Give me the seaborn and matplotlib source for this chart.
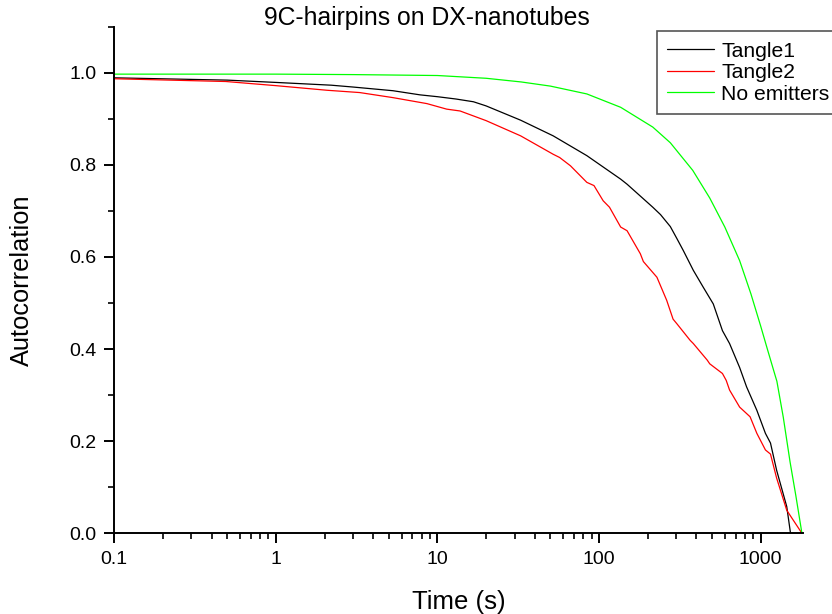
import numpy as np
import pandas as pd
import matplotlib
matplotlib.use("Agg")
import matplotlib.pyplot as plt
import matplotlib.ticker as mticker
import seaborn as sns

# ── Data ─────────────────────────────────────────────────────
tangle1_t = [0.1, 0.5, 1, 2.2, 3, 5.3, 7.8, 10, 13, 16.7, 20, 32.7, 52, 84, 136,
             149, 215, 240, 276, 303, 332, 383, 440, 509, 580, 642, 741, 818,
             947, 1070, 1150, 1255, 1450, 1530]
tangle1_v = [0.989, 0.984, 0.979, 0.973, 0.969, 0.961, 0.952, 0.948, 0.943, 0.937,
             0.928, 0.897, 0.863, 0.820, 0.769, 0.758, 0.708, 0.692, 0.666, 0.640,
             0.614, 0.571, 0.535, 0.498, 0.440, 0.412, 0.360, 0.318, 0.267, 0.217,
             0.196, 0.137, 0.058, 0.0]

tangle2_t = [0.1, 0.49, 1.0, 2.07, 3.3, 5.3, 8.6, 11.4, 13.8, 20, 32.7, 52, 57,
             66.5, 84, 93, 106, 116, 136, 149, 180, 188, 228, 262, 287, 303, 366,
             383, 467, 484, 580, 612, 642, 741, 860, 947, 1070, 1150, 1255, 1450,
             1800]
tangle2_v = [0.987, 0.981, 0.972, 0.962, 0.957, 0.946, 0.933, 0.921, 0.917, 0.896,
             0.863, 0.823, 0.816, 0.798, 0.762, 0.755, 0.722, 0.708, 0.665, 0.657,
             0.607, 0.590, 0.556, 0.506, 0.465, 0.455, 0.419, 0.412, 0.376, 0.368,
             0.347, 0.332, 0.311, 0.274, 0.253, 0.217, 0.181, 0.172, 0.120, 0.050,
             0.0]

noemit_t = [0.1, 1, 3, 10, 20, 33, 50, 84, 136, 215, 276, 380, 484, 600, 741, 870,
            1000, 1100, 1200, 1260, 1380, 1520, 1650, 1800]
noemit_v = [0.997, 0.997, 0.996, 0.994, 0.988, 0.980, 0.971, 0.954, 0.925, 0.882,
            0.848, 0.788, 0.728, 0.665, 0.592, 0.520, 0.450, 0.400, 0.355, 0.330,
            0.252, 0.155, 0.082, 0.0]

SERIES = [
    ("Tangle1", tangle1_t, tangle1_v, "#000000"),
    ("Tangle2", tangle2_t, tangle2_v, "#ff0000"),
    ("No emitters", noemit_t, noemit_v, "#00ff00"),
]

y_ticks = [0.0, 0.2, 0.4, 0.6, 0.8, 1.0]
x_ticks = [0.1, 1, 10, 100, 1000]

# ── Style ────────────────────────────────────────────────────
sns.set_style("ticks")
plt.rcParams["font.family"] = ["Liberation Sans", "DejaVu Sans"]
plt.rcParams["text.color"] = "black"
plt.rcParams["axes.labelcolor"] = "black"

W, H = 832, 614
fig = plt.figure(figsize=(W / 100, H / 100), dpi=100)
ax_l, ax_r, ax_b, ax_t = 114.3, 802.7, 533.3, 26.7
ax = fig.add_axes([ax_l / W, 1 - ax_b / H, (ax_r - ax_l) / W, (ax_b - ax_t) / H])

for name, t, v, col in SERIES:
    d = pd.DataFrame({"t": t, "v": v})
    sns.lineplot(data=d, x="t", y="v", color=col, lw=0.9, label=name, ax=ax,
                 estimator=None, sort=False)

ax.set_xscale("log")
ax.set_xlim(0.1, 1820)
ax.set_ylim(0, 1.1)

ax.set_xticks(x_ticks)
ax.xaxis.set_major_formatter(mticker.FuncFormatter(lambda x, _: f"{x:g}"))
ax.xaxis.set_minor_locator(mticker.LogLocator(base=10, subs=np.arange(2, 10)))
ax.xaxis.set_minor_formatter(mticker.NullFormatter())
ax.set_yticks(y_ticks)
ax.yaxis.set_major_formatter(mticker.FormatStrFormatter("%.1f"))
ax.yaxis.set_minor_locator(mticker.MultipleLocator(0.1))

for s in ("top", "right"):
    ax.spines[s].set_visible(False)
for s in ("left", "bottom"):
    ax.spines[s].set_linewidth(1.4)
    ax.spines[s].set_color("black")

ax.tick_params(which="major", direction="out", length=7, width=1.4,
               labelsize=14, pad=6, colors="black")
ax.tick_params(which="minor", direction="out", length=4, width=1.2, colors="black")

ax.set_xlabel("Time (s)", fontsize=18.5)
ax.set_ylabel("Autocorrelation", fontsize=18.3)
ax.xaxis.set_label_coords(0.5, -0.111)
ax.yaxis.set_label_coords(-0.117, 0.5)

fig.text(426.5 / W, 1 - 25 / H, "9C-hairpins on DX-nanotubes", fontsize=17.8,
         ha="center", va="baseline")

# legend frame runs past the right edge of the figure, as in the original
leg = ax.legend(loc="upper left", bbox_to_anchor=(656.7 / W, 1 - 31 / H),
                bbox_transform=fig.transFigure, fontsize=15.2, frameon=True,
                fancybox=False, shadow=False, borderpad=0.5, labelspacing=0.12,
                handlelength=2.2, handletextpad=0.35, borderaxespad=0)
leg.get_frame().set_edgecolor("#555555")
leg.get_frame().set_linewidth(1.2)
leg.get_frame().set_alpha(1)
for line in leg.get_lines():
    line.set_linewidth(0.9)

fig.savefig("out.png", dpi=100)
